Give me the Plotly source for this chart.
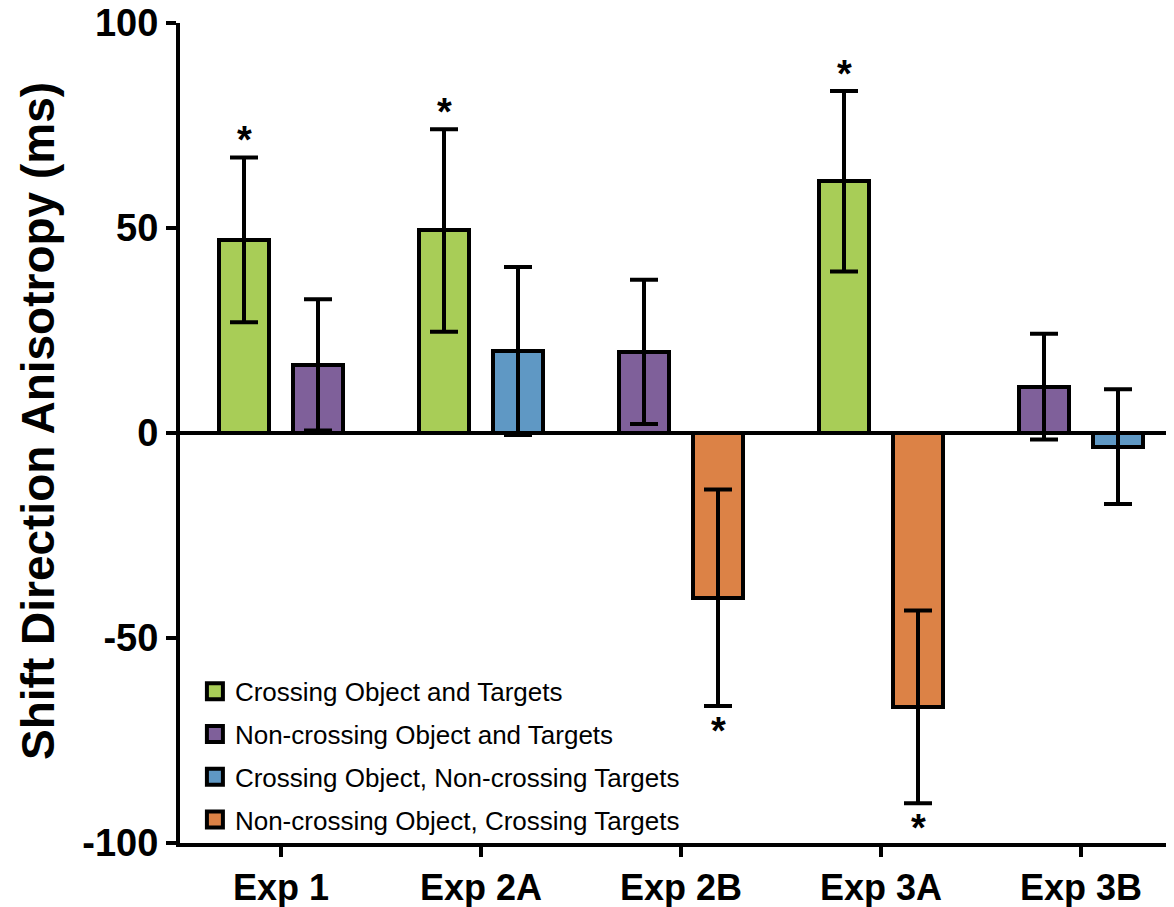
import plotly.graph_objects as go

categories = ["Exp 1", "Exp 2A", "Exp 2B", "Exp 3A", "Exp 3B"]

series_names = [
    "Crossing Object and Targets",
    "Non-crossing Object and Targets",
    "Crossing Object, Non-crossing Targets",
    "Non-crossing Object, Crossing Targets",
]
series_colors = ["#A8CD57", "#7F609A", "#5F98C4", "#DC8246"]

# per series: categories, side within the group, mean, sem, significance
green_cats = ["Exp 1", "Exp 2A", "Exp 3A"]
green_side = ["L", "L", "L"]
green_vals = [47.1, 49.4, 61.4]
green_err = [20.1, 24.7, 22.0]
green_sig = [True, True, True]

purple_cats = ["Exp 1", "Exp 2B", "Exp 3B"]
purple_side = ["R", "L", "L"]
purple_vals = [16.6, 19.8, 11.3]
purple_err = [16.0, 17.6, 12.9]
purple_sig = [False, False, False]

blue_cats = ["Exp 2A", "Exp 3B"]
blue_side = ["R", "R"]
blue_vals = [20.0, -3.3]
blue_err = [20.5, 14.0]
blue_sig = [False, False]

orange_cats = ["Exp 2B", "Exp 3A"]
orange_side = ["R", "R"]
orange_vals = [-40.2, -66.8]
orange_err = [26.4, 23.5]
orange_sig = [True, True]

y_ticks = [-100, -50, 0, 50, 100]
y_tick_labels = ["-100", "-50", "0", "50", "100"]
y_title = "Shift Direction Anisotropy (ms)"

series = [
    (green_cats, green_side, green_vals, green_err, green_sig),
    (purple_cats, purple_side, purple_vals, purple_err, purple_sig),
    (blue_cats, blue_side, blue_vals, blue_err, blue_sig),
    (orange_cats, orange_side, orange_vals, orange_err, orange_sig),
]

SIDE_OFF = 0.185
BAR_W = 0.25
FONT = "Liberation Sans, Arial"

fig = go.Figure()
annotations = []
for name, color, (cats, sides, vals, errs, sigs) in zip(series_names, series_colors, series):
    xs = [categories.index(c) + (-SIDE_OFF if s == "L" else SIDE_OFF) for c, s in zip(cats, sides)]
    fig.add_trace(go.Bar(
        x=xs, y=vals, width=BAR_W, name=name, legendgroup=name, showlegend=False,
        marker=dict(color=color, line=dict(color="black", width=4)),
        error_y=dict(type="data", array=errs, visible=True, color="black",
                     thickness=4, width=14),
    ))
    # legend entry with a larger square swatch
    fig.add_trace(go.Scatter(
        x=[None], y=[None], mode="markers", name=name, legendgroup=name,
        marker=dict(symbol="square", size=16, color=color, line=dict(color="black", width=4)),
    ))
    for x, v, e, sg in zip(xs, vals, errs, sigs):
        if sg:
            if v >= 0:
                annotations.append(dict(x=x, y=v + e, text="<b>*</b>", showarrow=False,
                                        yanchor="bottom", yshift=-6,
                                        font=dict(size=38, color="black", family=FONT)))
            else:
                annotations.append(dict(x=x, y=v - e, text="<b>*</b>", showarrow=False,
                                        yanchor="top", yshift=-2,
                                        font=dict(size=38, color="black", family=FONT)))

# y-axis title (placed as rotated text, centred slightly above the plot middle as in the reference)
annotations.append(dict(xref="paper", yref="paper", x=0, y=0.5, xanchor="center", yanchor="middle",
                        xshift=-142, yshift=12, textangle=-90, showarrow=False,
                        text="<b>" + y_title + "</b>",
                        font=dict(size=46, color="black", family=FONT)))

# the page body adds an 8px offset, so the figure is sized / margined to compensate
fig.update_layout(
    width=1166, height=899,
    margin=dict(l=172, r=0, t=15, b=64, autoexpand=False),
    plot_bgcolor="white", paper_bgcolor="white",
    font=dict(family=FONT, color="black"),
    bargap=0,
    showlegend=True,
    legend=dict(x=0.015, y=-0.001, xanchor="left", yanchor="bottom",
                font=dict(size=26, color="black"), tracegroupgap=6,
                bgcolor="rgba(0,0,0,0)", itemwidth=30),
    annotations=annotations,
)
fig.update_xaxes(
    range=[-0.505, 4.465], tickvals=list(range(len(categories))), ticktext=categories,
    showline=True, linecolor="black", linewidth=4, ticks="outside", ticklen=10,
    tickwidth=4, tickcolor="black", showgrid=False, zeroline=False, automargin=False,
    ticklabeloverflow="allow",
    tickfont=dict(size=36, family=FONT, weight="bold"),
)
fig.update_yaxes(
    range=[-100, 100], tickvals=y_ticks, ticktext=y_tick_labels,
    showline=True, linecolor="black", linewidth=4, ticks="outside", ticklen=10,
    tickwidth=4, tickcolor="black", showgrid=False, automargin=False,
    ticklabeloverflow="allow",
    zeroline=True, zerolinecolor="black", zerolinewidth=4,
    tickfont=dict(size=38, family=FONT, weight="bold"),
)

fig.write_html("out.html")
